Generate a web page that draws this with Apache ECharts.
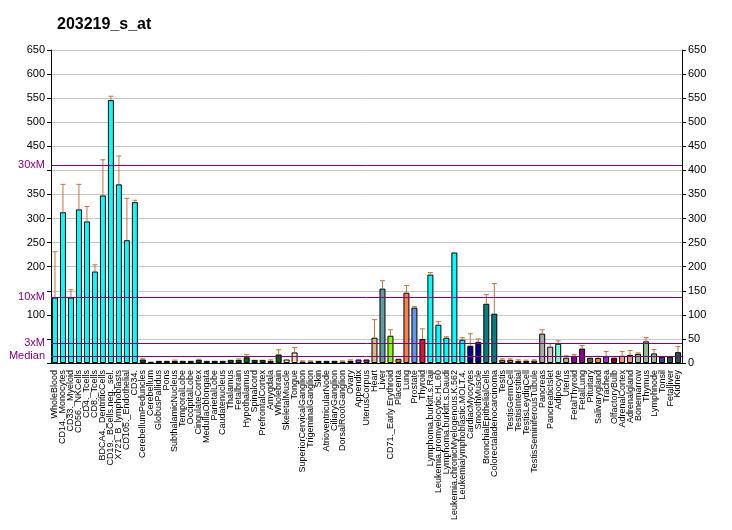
<!DOCTYPE html>
<html><head><meta charset="utf-8">
<script src="https://cdn.jsdelivr.net/npm/echarts@6/dist/echarts.min.js"></script>
<style>html,body{margin:0;padding:0;background:#fff}#c{width:732px;height:530px}</style>
</head><body><div id="c"></div>
<script>
const categories = ["WholeBlood","CD14._Monocytes","CD33._Myeloid","CD56._NKCells","CD4._Tcells","CD8._Tcells","BDCA4._DentriticCells","CD19._BCells.neg._sel.","X721_B_lymphoblasts","CD105._Endothelial","CD34.","CerebellumPeduncles","Cerebellum","GlobusPallidus","Pons","SubthalamicNucleus","TemporalLobe","OccipitalLobe","CingulateCortex","MedullaOblongata","ParietalLobe","Caudatenucleus","Thalamus","Fetalbrain","Hypothalamus","Spinalcord","PrefrontalCortex","Amygdala","Wholebrain","SkeletalMuscle","Tongue","SuperiorCervicalGanglion","TrigeminalGanglion","Skin","AtrioventricularNode","CiliaryGanglion","DorsalRootGanglion","Ovary","Appendix","UterusCorpus","Heart","Liver","CD71._Early Erythroid","Placenta","Lung","Prostate","Thyroid","Lymphoma.burkitt.s.Raji","Leukemia.promyelocytic.HL.60","Lymphoma.burkitt.s.Daudi","Leukemia.chronicMyelogenous.K.562","Leukemialymphoblastic.MOLT.4.","CardiacMyocytes","SmoothMuscle","BronchialEpithelialCells","Colorectaladenocarcinoma","Testis","TestisGermCell","TestisInterstitial","TestisLeydigCell","TestisSeminiferousTubule","Pancreas","PancreaticIslet","Adipocyte","Uterus","FetalThyroid","FetalLung","Pituitary","Salivarygland","Trachea","OlfactoryBulb","AdrenalCortex","Adrenalgland","Bonemarrow","Thymus","Lymphnode","Tonsil","Fetalliver","Kidney"];
const values = [136,313,136,319,294,190,348,546,371,255,334,7.3,2.5,4.5,4.5,4.5,4.5,4.5,6.5,4.5,4.5,4.5,6.5,6.5,12,6.5,6.5,4.5,17.7,7.3,22,3,3,4.5,4.5,4.5,3,4.5,7.3,7.3,52.5,154.5,56.6,8.7,146,115,50,183.6,79.5,52.5,229.5,48.3,35.8,44,123,102.5,6.6,6.6,4.5,4.5,5,61,34,40,11,15,30,11,10.5,14,11,15,17,19,45,20,13,13,22.5];
const errorTops = [231,371,152,371,325,204,422,554,430,342,338,9,null,null,null,6,null,null,8,null,null,null,null,8.5,17.7,null,null,6.5,27.5,null,32,4.5,4.5,null,null,null,4.5,6.5,null,null,90,171,69,null,161,117,71,188,85.8,54.6,null,52.5,60.8,50,142,165,8.7,8.7,6.6,6,6.5,69,40,46,15,18,36,null,14,24,null,24,26,21,53,28,null,null,34];
const barColors = ["#00FFFF","#00FFFF","#00FFFF","#00FFFF","#00FFFF","#00FFFF","#00FFFF","#00FFFF","#00FFFF","#00FFFF","#00FFFF",
 "#006400","#006400","#006400","#006400","#006400","#006400","#006400","#006400","#006400","#006400","#006400","#006400","#006400","#006400","#006400","#006400","#006400","#006400",
 "#FFE4C4","#FFDAB9","#111111","#111111","#111111","#111111","#111111","#111111","#0000FF","#9933FF","#B22222",
 "#DEB887","#5F9EA0","#7FFF00","#D2691E","#FF7F50","#6495ED","#DC143C",
 "#00FFFF","#00FFFF","#00FFFF","#00FFFF","#00FFFF","#00008B","#00008B","#008080","#008080",
 "#B8860B","#B8860B","#B8860B","#B8860B","#B8860B","#A9A9A9","#C8C8C8","#7FFFD4","#BDB76B","#8B008B","#8B008B","#556B2F","#FF8C00","#9932CC","#8B0000","#E9967A","#E9967A","#8FBC8F","#8FBC8F","#8FBC8F","#483D8B","#2F4F4F","#2F4F4F"];
const medianValue = 13.7;
const markerLines = [["30xM",30],["10xM",10],["3xM",3],["Median",1]];
const hiddenLeftTicks = [0,50,150,400];

const FONT = "Liberation Sans, Arial, sans-serif";
const PURPLE = '#800080';
const chart = echarts.init(document.getElementById('c'));
const errData = [];
errorTops.forEach((e,i)=>{ if(e!==null) errData.push([i, values[i], e]); });

chart.setOption({
  animation:false,
  backgroundColor:'#fff',
  title:{text:'203219_s_at', left:52, top:12, textStyle:{fontFamily:FONT, fontSize:16, fontWeight:'bold', color:'#000'}},
  grid:{left:51, right:50, top:50, bottom:167, containLabel:false},
  xAxis:{type:'category', data:categories, boundaryGap:true,
    axisLine:{lineStyle:{color:'#000'}},
    axisTick:{alignWithLabel:true, length:5, lineStyle:{color:'#000'}},
    axisLabel:{rotate:90, interval:0, fontSize:9, margin:7, color:'#000', fontFamily:FONT}},
  yAxis:[
    {type:'value', min:0, max:650, interval:50, position:'left',
     axisLine:{show:true, lineStyle:{color:'#000'}},
     axisTick:{show:true, length:4, lineStyle:{color:'#000'}},
     splitLine:{show:true, lineStyle:{color:'#C8C8C8'}},
     axisLabel:{fontSize:11, margin:6, color:'#000', fontFamily:FONT,
       formatter:v=> hiddenLeftTicks.indexOf(v)>=0 ? '' : String(v)}},
    {type:'value', min:0, max:650, interval:50, position:'right',
     axisLine:{show:true, lineStyle:{color:'#000'}},
     axisTick:{show:true, length:4, lineStyle:{color:'#000'}},
     splitLine:{show:false},
     axisLabel:{fontSize:11, margin:6, color:'#000', fontFamily:FONT}}
  ],
  series:[
    {type:'bar', yAxisIndex:0, barCategoryGap:'25%',
     data: values.map((v,i)=>({value:v, itemStyle:{color:barColors[i]}})),
     itemStyle:{borderColor:'#000', borderWidth:1},
     markLine:{silent:true, symbol:['none','none'], z:10,
       lineStyle:{color:PURPLE, width:1, type:'solid', opacity:1},
       emphasis:{disabled:true},
       label:{show:true, position:'start', distance:6, formatter:'{b}', color:PURPLE, fontSize:11, fontFamily:FONT},
       data: markerLines.map(m=>({name:m[0], yAxis: medianValue*m[1],
         lineStyle:{color:PURPLE, width:1, type:'solid', opacity:1}}))}
    },
    {type:'custom', yAxisIndex:0, z:5, data:errData,
     renderItem:(params, api)=>{
       const x = api.value(0);
       const lo = api.coord([x, api.value(1)]);
       const hi = api.coord([x, api.value(2)]);
       const hw = 2.5;
       const st = {stroke:'#C8733A', lineWidth:1};
       return {type:'group', children:[
         {type:'line', shape:{x1:lo[0], y1:lo[1], x2:hi[0], y2:hi[1]}, style:st},
         {type:'line', shape:{x1:hi[0]-hw, y1:hi[1], x2:hi[0]+hw, y2:hi[1]}, style:st}
       ]};
     }}
  ]
});
</script></body></html>
